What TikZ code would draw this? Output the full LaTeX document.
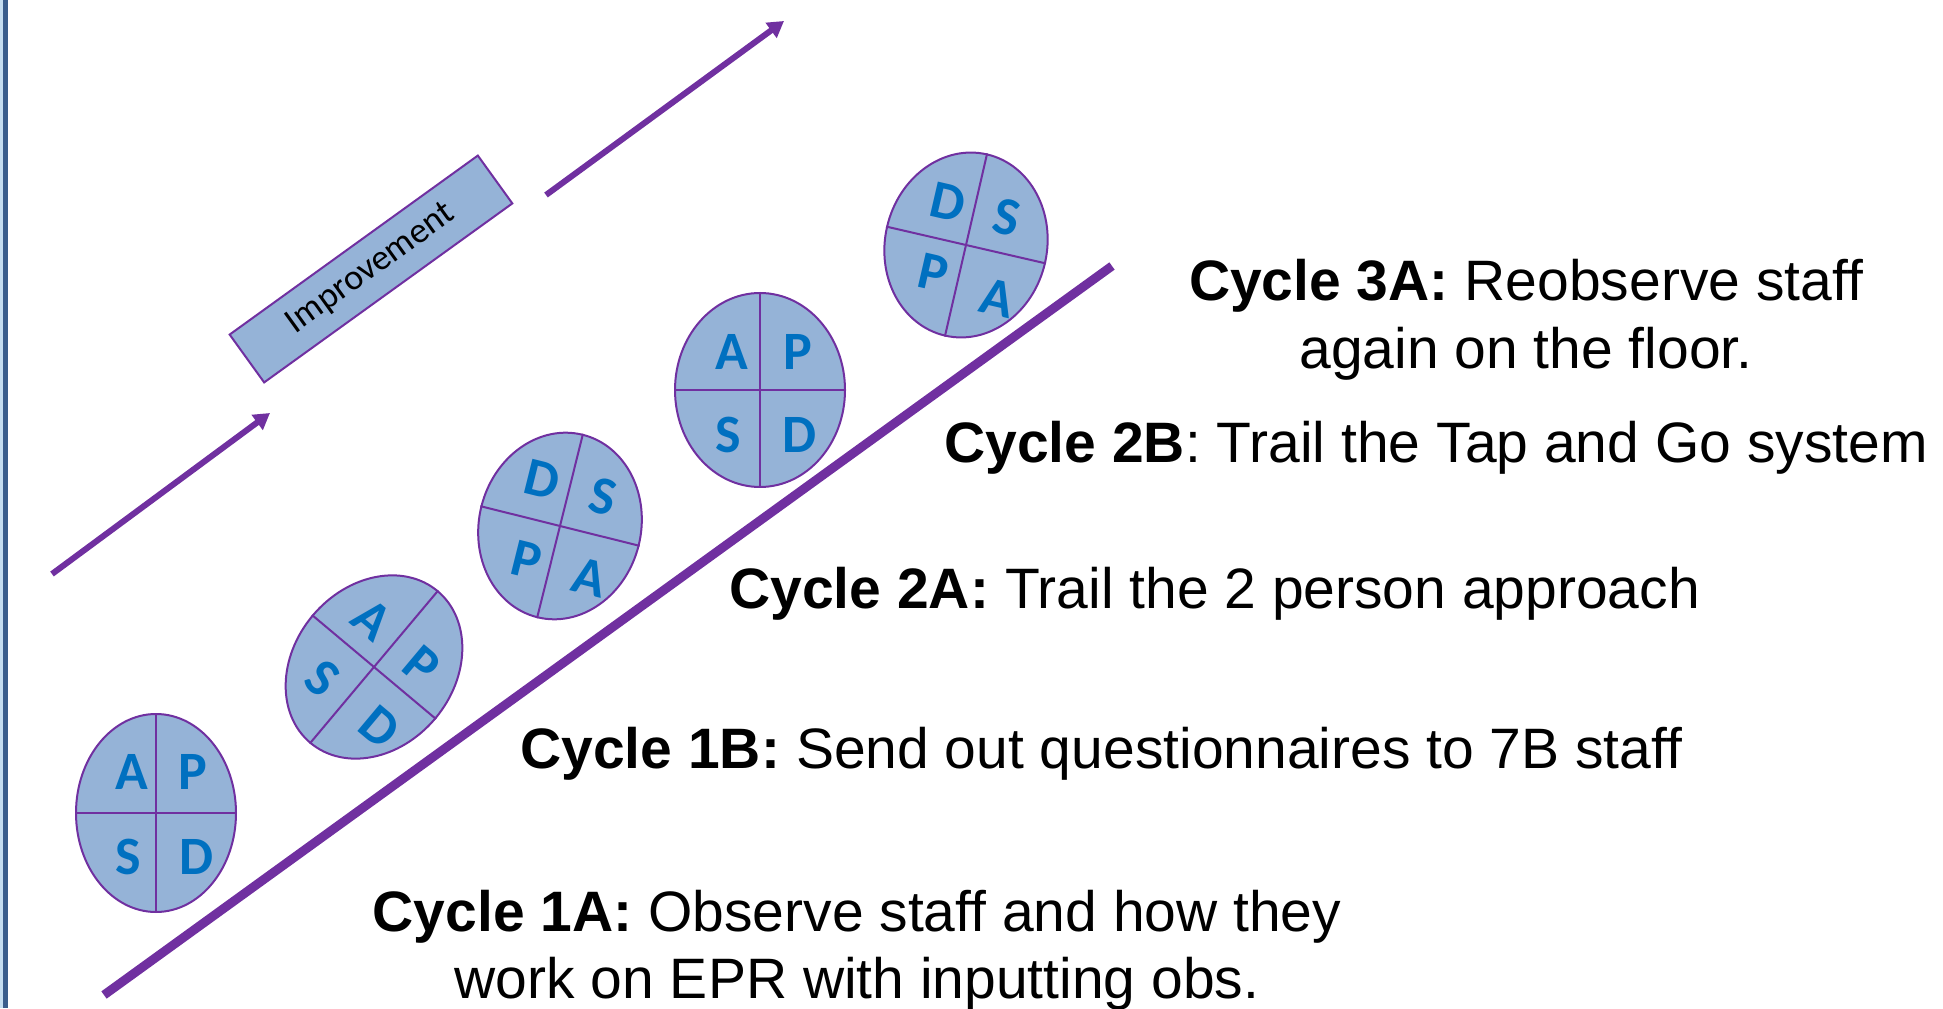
\documentclass[tikz,border=0pt]{standalone}
\usepackage{fontspec}
\setmainfont{Liberation Sans}
\newfontfamily\calfont{Carlito}
\usetikzlibrary{arrows.meta,shapes.geometric}
\definecolor{pur}{HTML}{7030A0}
\definecolor{fillb}{HTML}{95B3D7}
\definecolor{letb}{HTML}{0070C0}
\definecolor{bordd}{HTML}{3A5D8C}
\definecolor{bordl}{HTML}{C5DDF0}
\begin{document}
\begin{tikzpicture}[x=0.5pt,y=0.5pt,
  cyc/.style={ellipse, draw=pur, fill=fillb, line width=1pt, inner sep=0pt},
  div/.style={draw=pur, line width=1pt},
  lett/.style={text=letb, font=\calfont\bfseries\fontsize{27}{27}\selectfont, inner sep=0pt},
  txt/.style={font=\fontsize{28.5}{34}\selectfont, inner sep=0pt},
  arr/.style={draw=pur, line width=3pt, -{Triangle[length=8pt,width=9pt]}},
  mainline/.style={draw=pur, line width=4.5pt}]
\useasboundingbox (0,0) rectangle (1943,1008);
% left border
\fill[bordl] (0,0) rectangle (3.3,1008);
\fill[bordd] (3.3,0) rectangle (8.3,1008);

% main line
\coordinate (m1) at (104,13);
\coordinate (m2) at (1112,742);
\draw[mainline] (m1) -- (m2);

% improvement arrows and box
\coordinate (a1s) at (52,434);
\coordinate (a1e) at (270,595);
\draw[arr] (a1s) -- (a1e);
\coordinate (a2s) at (546,813);
\coordinate (a2e) at (784,987);
\draw[arr] (a2s) -- (a2e);
\node[draw=pur, fill=fillb, line width=1pt, rotate=35.8, minimum width=153pt, minimum height=29.5pt,
      font=\calfont\fontsize{18}{18}\selectfont] (imp) at (371,739) {Improvement};

% ellipse 1
\node[cyc, minimum width=80pt, minimum height=99pt] (e1) at (156,195) {};
\draw[div] (e1.north) -- (e1.south);
\draw[div] (e1.west) -- (e1.east);
\node[lett] (e1a) at (132,236) {A};
\node[lett] (e1p) at (193,236) {P};
\node[lett] (e1s) at (128,151) {S};
\node[lett] (e1d) at (197,151) {D};

% ellipse 2
\node[cyc, rotate=-40, minimum width=80pt, minimum height=99pt] (e2) at (374,341) {};
\draw[div] (e2.north) -- (e2.south);
\draw[div] (e2.west) -- (e2.east);
\node[lett, rotate=-40] (e2a) at (372,388) {A};
\node[lett, rotate=-40] (e2p) at (422,343) {P};
\node[lett, rotate=-40] (e2d) at (380,281) {D};
\node[lett, rotate=-40] (e2s) at (323,330) {S};

% ellipse 3
\node[cyc, rotate=-14, minimum width=81pt, minimum height=94pt] (e3) at (560,482) {};
\draw[div] (e3.north) -- (e3.south);
\draw[div] (e3.west) -- (e3.east);
\node[lett, rotate=-14] (e3d) at (542,528) {D};
\node[lett, rotate=-14] (e3s) at (603,511) {S};
\node[lett, rotate=-14] (e3p) at (527,448) {P};
\node[lett, rotate=-14] (e3a) at (590,431) {A};

% ellipse 4
\node[cyc, minimum width=85pt, minimum height=97pt] (e4) at (760,618) {};
\draw[div] (e4.north) -- (e4.south);
\draw[div] (e4.west) -- (e4.east);
\node[lett] (e4a) at (732,656) {A};
\node[lett] (e4p) at (798,656) {P};
\node[lett] (e4s) at (728,573) {S};
\node[lett] (e4d) at (800,573) {D};

% ellipse 5
\node[cyc, rotate=-13, minimum width=81pt, minimum height=93pt] (e5) at (966,763) {};
\draw[div] (e5.north) -- (e5.south);
\draw[div] (e5.west) -- (e5.east);
\node[lett, rotate=-13] (e5d) at (948,806) {D};
\node[lett, rotate=-13] (e5s) at (1007,791) {S};
\node[lett, rotate=-13] (e5p) at (933,735) {P};
\node[lett, rotate=-13] (e5a) at (997,710) {A};

% texts
\node[txt, anchor=base] (t3a1) at (1526,707) {\textbf{Cycle 3A:} Reobserve staff};
\node[txt, anchor=base] (t3a2) at (1526,639) {again on the floor.};
\node[txt, anchor=base west] (t2b) at (944,545) {\textbf{Cycle 2B}: Trail the Tap and Go system};
\node[txt, anchor=base west] (t2a) at (729,400) {\textbf{Cycle 2A:} Trail the 2 person approach};
\node[txt, anchor=base west] (t1b) at (520,240) {\textbf{Cycle 1B:} Send out questionnaires to 7B staff};
\node[txt, anchor=base] (t1a1) at (857,77) {\textbf{Cycle 1A:} Observe staff and how they};
\node[txt, anchor=base] (t1a2) at (857,10) {work on EPR with inputting obs.};
\end{tikzpicture}
\end{document}
